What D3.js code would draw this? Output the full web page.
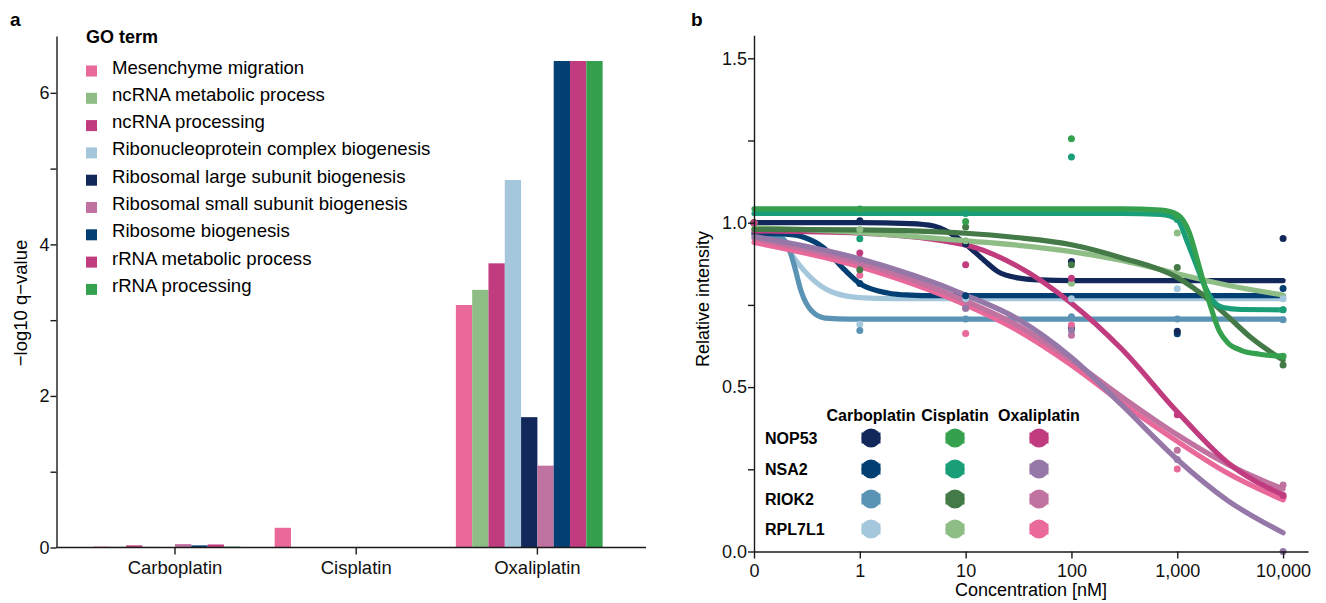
<!DOCTYPE html>
<html>
<head>
<meta charset="utf-8">
<script src="https://cdn.jsdelivr.net/npm/d3@7"></script>
<style>
  body { margin: 0; background: #fff; }
  svg { display: block; font-family: 'Liberation Sans', Arial, sans-serif; }
  .axis path, .axis line { stroke: #1a1a1a; stroke-width: 1.4; }
  .axis text { font-size: 17.5px; fill: #111; font-family: 'Liberation Sans', Arial, sans-serif; }
</style>
</head>
<body>
<svg id="chart" width="1326" height="603"></svg>
<script>
// ---- panel a data ----
const drugs = ['Carboplatin', 'Cisplatin', 'Oxaliplatin']
const goTerms = [
  'Mesenchyme migration',
  'ncRNA metabolic process',
  'ncRNA processing',
  'Ribonucleoprotein complex biogenesis',
  'Ribosomal large subunit biogenesis',
  'Ribosomal small subunit biogenesis',
  'Ribosome biogenesis',
  'rRNA metabolic process',
  'rRNA processing'
]
const carboplatinQ = [0.012, 0.01, 0.028, 0.01, 0.004, 0.045, 0.028, 0.04, 0.012]
const cisplatinQ = [0.26, 0, 0, 0, 0, 0, 0, 0, 0]
const oxaliplatinQ = [3.2, 3.4, 3.75, 4.85, 1.72, 1.08, 6.42, 6.42, 6.42]
const qTicks = [0, 1, 2, 3, 4, 5, 6]

const goColors = ['#e8699a', '#8fbd86', '#c03c7e', '#a5c7dc', '#13285a', '#c072a0', '#023f73', '#c03c7e', '#35a14f']

// ---- panel b data ----
const genes = ['NOP53', 'NSA2', 'RIOK2', 'RPL7L1']
const concTicks = [0.1, 1, 10, 100, 1000, 10000]
const intensityTicks = [0, 0.25, 0.5, 0.75, 1, 1.25, 1.5]
const dotConc = [0, 1, 10, 100, 1000, 10000]

// fitted curves: [concentration nM, relative intensity]
const fitCarboNOP53 = [[0.1, 1.0], [1, 1.0], [3, 0.997], [5, 0.99], [7, 0.97], [10, 0.935], [15, 0.885], [20, 0.852], [30, 0.833], [50, 0.826], [100, 0.824], [10000, 0.824]]
const fitCarboNSA2 = [[0.1, 0.968], [0.2, 0.965], [0.3, 0.955], [0.45, 0.925], [0.7, 0.86], [1, 0.815], [1.5, 0.792], [2, 0.784], [3, 0.78], [5, 0.778], [10000, 0.778]]
const fitCarboRIOK2 = [[0.1, 0.963], [0.15, 0.96], [0.19, 0.95], [0.22, 0.91], [0.24, 0.87], [0.28, 0.79], [0.35, 0.732], [0.47, 0.71], [0.8, 0.707], [10000, 0.707]]
const fitCarboRPL7L1 = [[0.1, 0.965], [0.15, 0.962], [0.18, 0.953], [0.24, 0.892], [0.35, 0.831], [0.54, 0.79], [1, 0.772], [2, 0.769], [10000, 0.769]]

const fitCisNOP53 = [[0.1, 1.042], [300, 1.042], [700, 1.038], [1000, 1.025], [1300, 0.97], [1600, 0.87], [2000, 0.76], [2500, 0.67], [3000, 0.635], [4000, 0.612], [6000, 0.6], [10000, 0.594]]
const fitCisNSA2 = [[0.1, 1.028], [300, 1.028], [700, 1.025], [1000, 1.01], [1250, 0.94], [1500, 0.875], [1800, 0.81], [2200, 0.76], [2700, 0.742], [4000, 0.736], [10000, 0.735]]
const fitCisRIOK2 = [[0.1, 0.98], [1, 0.978], [10, 0.968], [30, 0.955], [100, 0.933], [300, 0.893], [1000, 0.833], [2000, 0.765], [3000, 0.715], [5000, 0.65], [10000, 0.582]]
const fitCisRPL7L1 = [[0.1, 0.985], [1, 0.97], [10, 0.945], [40, 0.928], [100, 0.912], [300, 0.885], [1000, 0.845], [3000, 0.81], [10000, 0.78]]

const fitOxaNOP53 = [[0.1, 0.975], [1, 0.968], [10, 0.932], [30, 0.87], [100, 0.755], [300, 0.615], [1000, 0.425], [3000, 0.27], [10000, 0.172]]
const fitOxaNSA2 = [[0.1, 0.958], [1, 0.89], [10, 0.78], [30, 0.71], [100, 0.59], [300, 0.445], [1000, 0.28], [3000, 0.155], [10000, 0.057]]
const fitOxaRIOK2 = [[0.1, 0.952], [1, 0.878], [10, 0.762], [30, 0.69], [100, 0.582], [300, 0.47], [1000, 0.355], [3000, 0.265], [10000, 0.19]]
const fitOxaRPL7L1 = [[0.1, 0.94], [1, 0.866], [10, 0.75], [30, 0.675], [100, 0.567], [300, 0.452], [1000, 0.335], [3000, 0.238], [10000, 0.157]]

// measured points at dotConc
const dotsCarboNOP53 = [1.0, 1.006, 0.935, 0.882, 0.67, 0.952]
const dotsCarboNSA2 = [1.0, 0.815, 0.778, 0.679, 0.662, 0.80]
const dotsCarboRIOK2 = [1.0, 0.672, 0.707, 0.714, 0.707, 0.705]
const dotsCarboRPL7L1 = [1.0, 0.691, 0.769, 0.769, 0.799, 0.769]
const dotsCisNOP53 = [1.0, 1.042, 1.004, 1.255, 1.02, 0.594]
const dotsCisNSA2 = [1.0, 0.951, 1.028, 1.2, 1.01, 0.735]
const dotsCisRIOK2 = [1.0, 0.857, 0.987, 0.872, 0.864, 0.567]
const dotsCisRPL7L1 = [1.0, 0.979, 0.945, 0.816, 0.969, 0.735]
const dotsOxaNOP53 = [1.0, 0.908, 0.872, 0.831, 0.416, 0.17]
const dotsOxaNSA2 = [1.0, 0.89, 0.74, 0.672, 0.28, 0.0]
const dotsOxaRIOK2 = [1.0, 0.878, 0.74, 0.658, 0.308, 0.202]
const dotsOxaRPL7L1 = [1.0, 0.84, 0.663, 0.689, 0.251, 0.165]

const drugColors = {
  Carboplatin: ['#13285a', '#023f73', '#5a93b4', '#a5c7dc'],
  Cisplatin: ['#35a14f', '#1a9e78', '#447a47', '#8fbd86'],
  Oxaliplatin: ['#c03c7e', '#9678a8', '#c072a0', '#e8699a']
}

// drawing order: carboplatin first, then oxaliplatin, cisplatin on top
const series = [
  { drug: 'Carboplatin', gene: 'RPL7L1', fit: fitCarboRPL7L1, dots: dotsCarboRPL7L1 },
  { drug: 'Carboplatin', gene: 'RIOK2', fit: fitCarboRIOK2, dots: dotsCarboRIOK2 },
  { drug: 'Carboplatin', gene: 'NSA2', fit: fitCarboNSA2, dots: dotsCarboNSA2 },
  { drug: 'Carboplatin', gene: 'NOP53', fit: fitCarboNOP53, dots: dotsCarboNOP53 },
  { drug: 'Oxaliplatin', gene: 'RPL7L1', fit: fitOxaRPL7L1, dots: dotsOxaRPL7L1 },
  { drug: 'Oxaliplatin', gene: 'RIOK2', fit: fitOxaRIOK2, dots: dotsOxaRIOK2 },
  { drug: 'Oxaliplatin', gene: 'NSA2', fit: fitOxaNSA2, dots: dotsOxaNSA2 },
  { drug: 'Oxaliplatin', gene: 'NOP53', fit: fitOxaNOP53, dots: dotsOxaNOP53 },
  { drug: 'Cisplatin', gene: 'RPL7L1', fit: fitCisRPL7L1, dots: dotsCisRPL7L1 },
  { drug: 'Cisplatin', gene: 'RIOK2', fit: fitCisRIOK2, dots: dotsCisRIOK2 },
  { drug: 'Cisplatin', gene: 'NSA2', fit: fitCisNSA2, dots: dotsCisNSA2 },
  { drug: 'Cisplatin', gene: 'NOP53', fit: fitCisNOP53, dots: dotsCisNOP53 }
]

const svg = d3.select('#chart')
svg.append('rect').attr('width', 1326).attr('height', 603).attr('fill', '#fff')

drawPanelA()
drawPanelB()

function colorOf(s) {
  return drugColors[s.drug][genes.indexOf(s.gene)]
}

function drawPanelA() {
  let g = svg.append('g')
  let byDrug = [carboplatinQ, cisplatinQ, oxaliplatinQ]

  let x0 = d3.scaleBand()
    .domain(drugs)
    .range([84.4, 628])
  let groupW = x0.bandwidth() * 0.9
  // 10 dodge slots per group, the 9 terms fill the first nine
  let x1 = d3.scaleBand()
    .domain(goTerms)
    .range([-groupW / 2, -groupW / 2 + groupW * 0.9])
  let y = d3.scaleLinear()
    .domain([0, 6.75])
    .range([547.5, 36])

  drugs.forEach((drug, i) => {
    g.append('g')
      .selectAll('rect')
      .data(byDrug[i])
      .enter()
      .append('rect')
      .attr('x', (d, j) => x0(drug) + x0.bandwidth() / 2 + x1(goTerms[j]))
      .attr('width', x1.bandwidth())
      .attr('y', d => y(d))
      .attr('height', d => y(0) - y(d))
      .attr('fill', (d, j) => goColors[j])
  })

  let yAxis = d3.axisLeft(y)
    .tickValues(qTicks)
    .tickFormat(d => d % 2 === 0 ? d : '')
    .tickSize(6)
    .tickSizeOuter(0)
  g.append('g')
    .attr('class', 'axis')
    .attr('transform', 'translate(56.5, 0)')
    .call(yAxis)
    .call(a => a.selectAll('text').attr('dx', '2px').style('font-size', '18px'))

  let xAxis = d3.axisBottom(x0)
    .tickSize(7)
    .tickSizeOuter(0)
  let xa = g.append('g')
    .attr('class', 'axis')
    .attr('transform', 'translate(0, 547.5)')
    .call(xAxis)
  xa.select('.domain').attr('d', 'M56.5,0H646')
  xa.selectAll('text').attr('dy', '0.9em').style('font-size', '18.5px')

  g.append('text')
    .attr('transform', 'translate(20, 303) rotate(-90)')
    .attr('text-anchor', 'middle')
    .attr('dominant-baseline', 'central')
    .style('font-size', '18.5px')
    .text('\u2212log10 q\u2212value')

  g.append('text')
    .attr('x', 10).attr('y', 26)
    .style('font-size', '19px').style('font-weight', 'bold')
    .text('a')

  // legend
  let leg = g.append('g')
  leg.append('text')
    .attr('x', 86).attr('y', 43)
    .style('font-size', '18px').style('font-weight', 'bold')
    .text('GO term')
  let rows = leg.selectAll('g.row')
    .data(goTerms)
    .enter()
    .append('g')
    .attr('class', 'row')
    .attr('transform', (d, i) => 'translate(86,' + (71 + i * 27.3) + ')')
  rows.append('rect')
    .attr('x', 0).attr('y', -5.5)
    .attr('width', 11).attr('height', 11)
    .attr('fill', (d, i) => goColors[i])
  rows.append('text')
    .attr('x', 26).attr('y', 2.5)
    .style('font-size', '18.6px')
    .text(d => d)
}

function drawPanelB() {
  let g = svg.append('g')

  let x = d3.scaleLog()
    .domain([0.1, 17200])
    .range([754, 1308])
  let y = d3.scaleLinear()
    .domain([0, 1.57])
    .range([551.5, 35.3])
  let xc = c => x(c === 0 ? 0.1 : c)

  let line = d3.line()
    .x(d => x(d[0]))
    .y(d => y(d[1]))
    .curve(d3.curveMonotoneX)

  g.append('g')
    .selectAll('path')
    .data(series)
    .enter()
    .append('path')
    .attr('d', s => line(s.fit))
    .attr('fill', 'none')
    .attr('stroke', s => colorOf(s))
    .attr('stroke-width', 5.2)
    .attr('stroke-linecap', 'round')

  // dots, with NOP53 oxaliplatin last so it shows at the origin
  let dotSeries = series.filter(s => !(s.drug === 'Oxaliplatin' && s.gene === 'NOP53'))
  dotSeries.push(series.find(s => s.drug === 'Oxaliplatin' && s.gene === 'NOP53'))
  let dots = []
  dotSeries.forEach(s => {
    s.dots.forEach((v, i) => dots.push({ c: dotConc[i], v: v, color: colorOf(s) }))
  })
  g.append('g')
    .selectAll('circle')
    .data(dots)
    .enter()
    .append('circle')
    .attr('cx', d => xc(d.c))
    .attr('cy', d => y(d.v))
    .attr('r', 3.5)
    .attr('fill', d => d.color)

  let yAxis = d3.axisLeft(y)
    .tickValues(intensityTicks)
    .tickFormat(d => (d * 100) % 50 === 0 ? d3.format('.1f')(d) : '')
    .tickSize(6)
    .tickSizeOuter(0)
  g.append('g')
    .attr('class', 'axis')
    .attr('transform', 'translate(754, 0)')
    .call(yAxis)
    .call(a => a.selectAll('text').attr('dx', '2px').style('font-size', '18px'))

  let xAxis = d3.axisBottom(x)
    .tickValues(concTicks)
    .tickFormat(d => d === 0.1 ? '0' : d3.format(',')(d))
    .tickSize(7)
    .tickSizeOuter(0)
  g.append('g')
    .attr('class', 'axis')
    .attr('transform', 'translate(0, 551.5)')
    .call(xAxis)
    .call(a => a.selectAll('text').attr('dy', '0.85em').style('font-size', '18px'))

  g.append('text')
    .attr('x', 1031).attr('y', 596)
    .attr('text-anchor', 'middle')
    .style('font-size', '18px')
    .text('Concentration [nM]')

  g.append('text')
    .attr('transform', 'translate(703, 299) rotate(-90)')
    .attr('text-anchor', 'middle')
    .attr('dominant-baseline', 'central')
    .style('font-size', '18px')
    .text('Relative intensity')

  g.append('text')
    .attr('x', 691).attr('y', 26)
    .style('font-size', '19px').style('font-weight', 'bold')
    .text('b')

  // legend grid
  let colX = [871, 955, 1039]
  let rowY = [438, 469, 499, 529]
  let leg = g.append('g')
  leg.selectAll('text.head')
    .data(drugs)
    .enter()
    .append('text')
    .attr('class', 'head')
    .attr('x', (d, i) => colX[i]).attr('y', 421)
    .attr('text-anchor', 'middle')
    .style('font-size', '16px').style('font-weight', 'bold')
    .text(d => d)
  leg.selectAll('text.gene')
    .data(genes)
    .enter()
    .append('text')
    .attr('class', 'gene')
    .attr('x', 765).attr('y', (d, i) => rowY[i] + 6)
    .style('font-size', '16px').style('font-weight', 'bold')
    .text(d => d)
  drugs.forEach((drug, i) => {
    genes.forEach((gene, j) => {
      let key = leg.append('g')
        .attr('transform', 'translate(' + colX[i] + ',' + rowY[j] + ')')
        .attr('fill', drugColors[drug][j])
      key.append('circle').attr('r', 9.5)
      key.append('rect').attr('x', -9.5).attr('y', -5.5).attr('width', 19).attr('height', 11)
    })
  })
}
</script>
</body>
</html>
